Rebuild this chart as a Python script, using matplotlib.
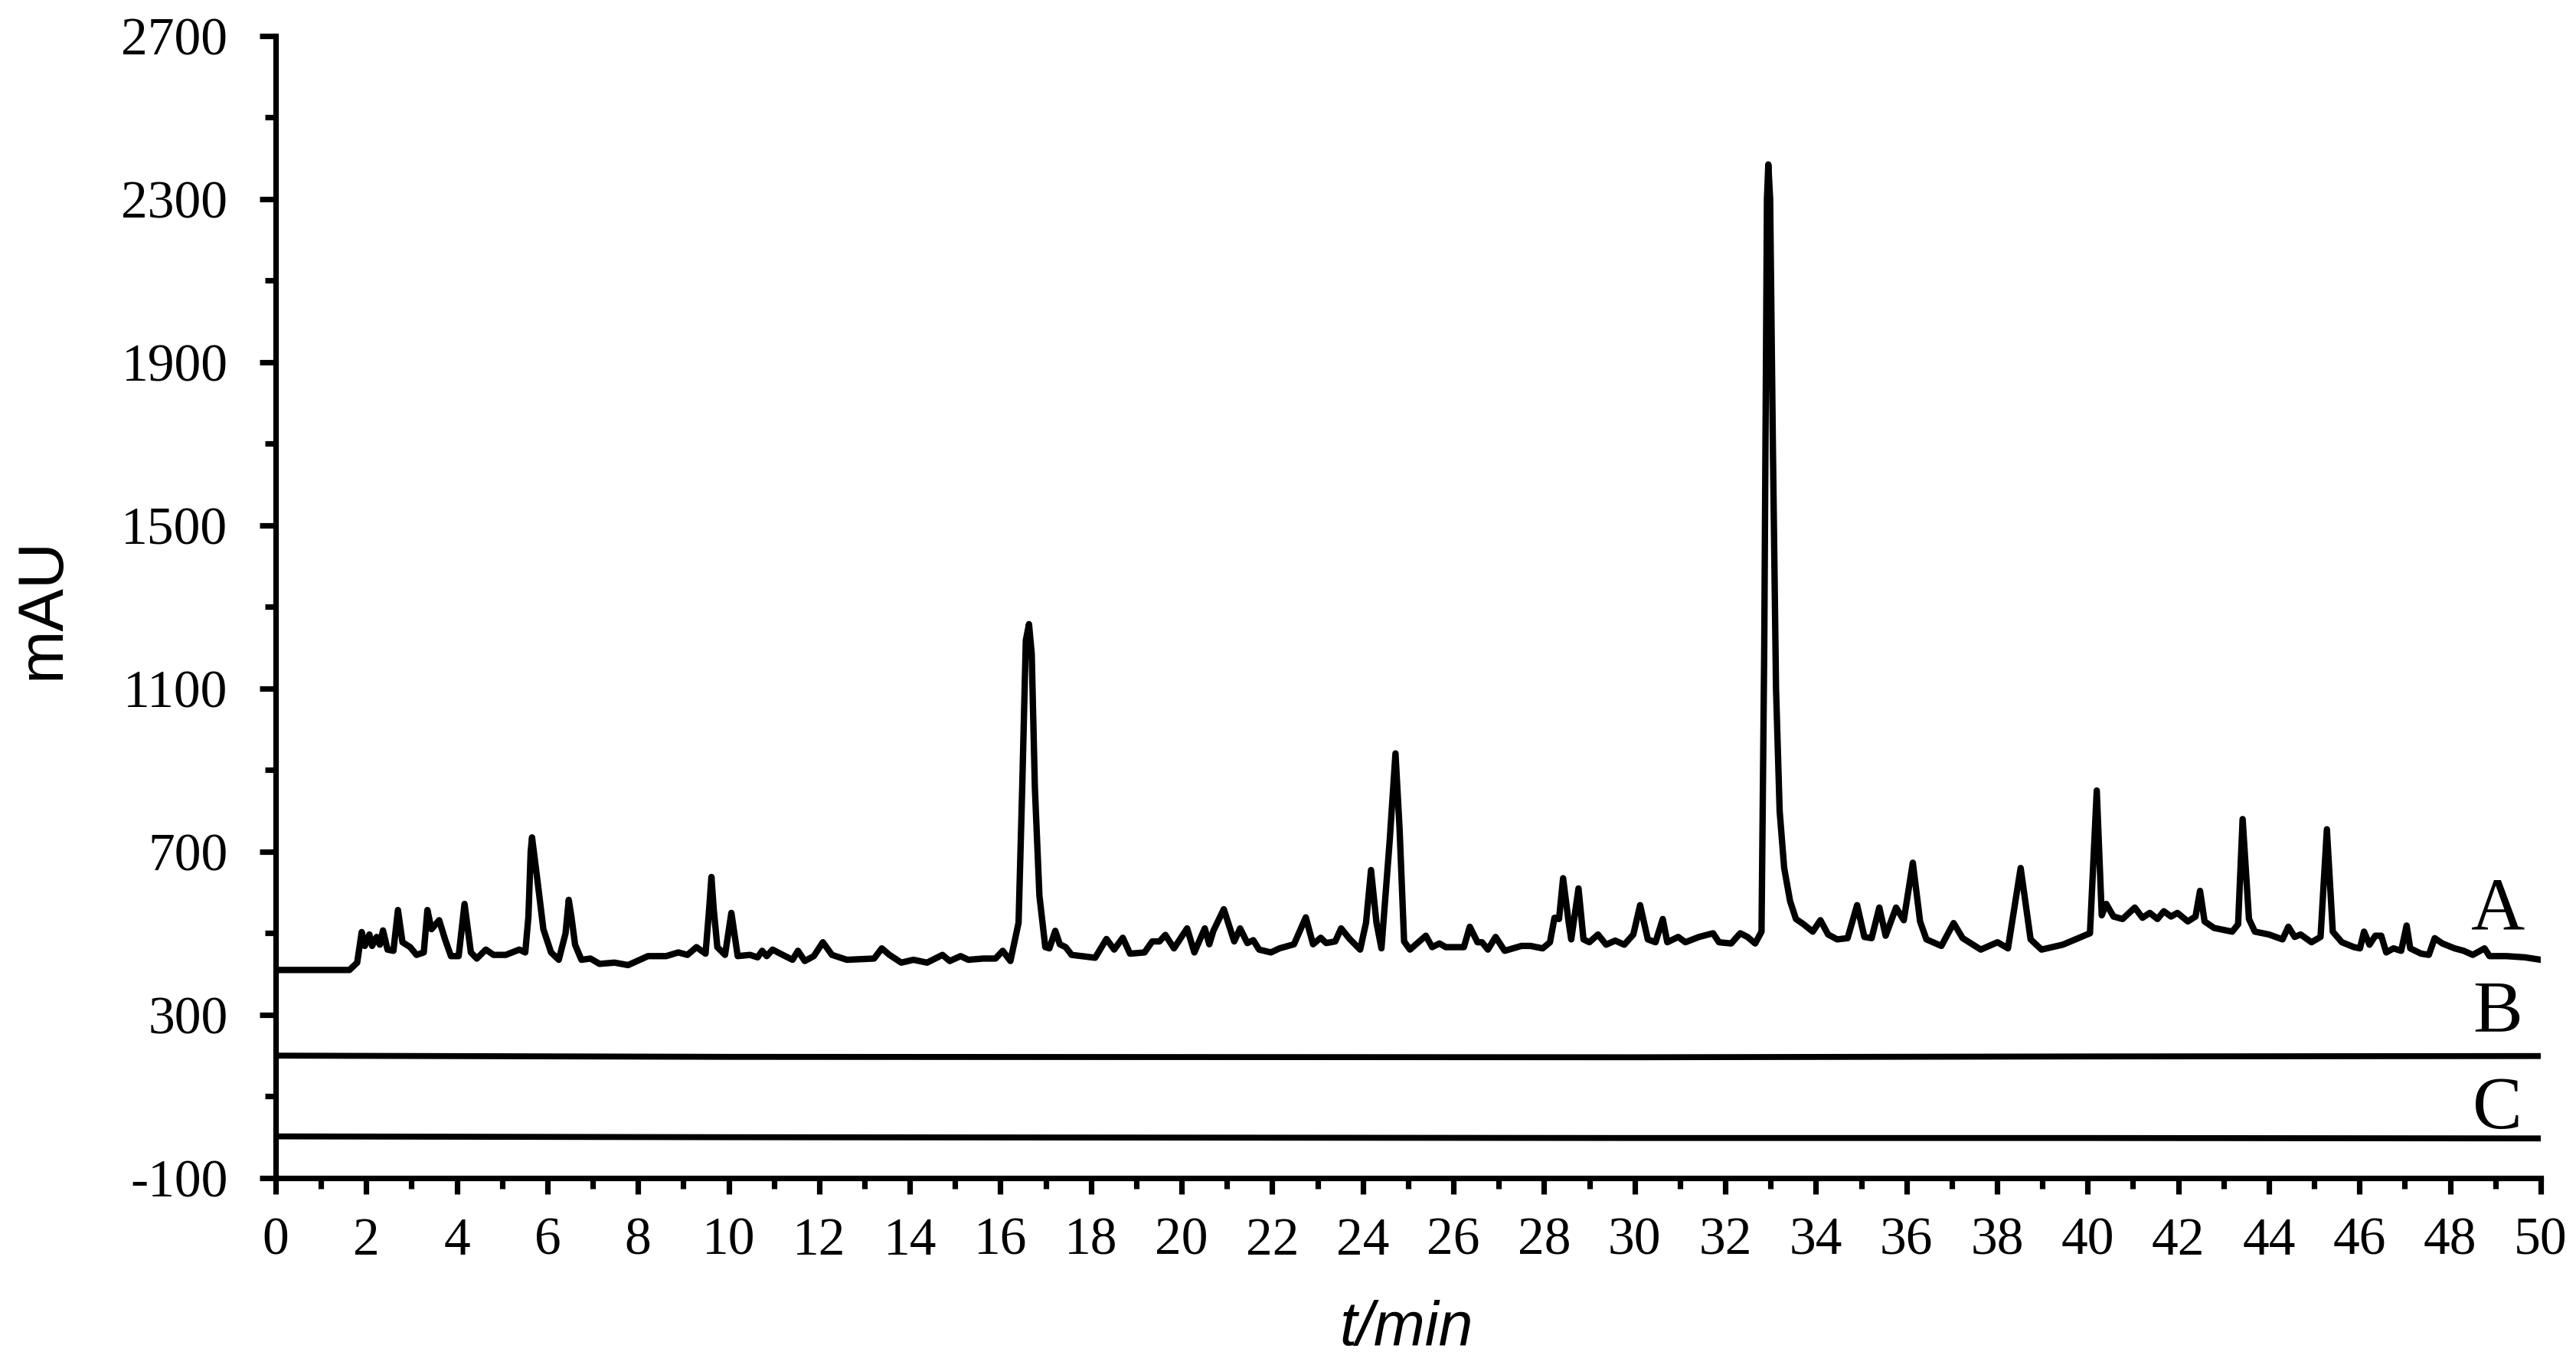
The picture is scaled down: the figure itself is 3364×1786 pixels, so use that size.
import matplotlib
matplotlib.use("Agg")
import matplotlib.pyplot as plt
from matplotlib.ticker import MultipleLocator
plt.rcParams["axes.unicode_minus"] = False

# trace A (retention time in min, signal in mAU)
time_a = [0.0, 1.63, 1.80, 1.90, 1.97, 2.07, 2.13, 2.23, 2.30, 2.37, 2.47, 2.60, 2.70, 2.80,
          2.97, 3.11, 3.27, 3.35, 3.44, 3.61, 3.74, 3.87, 4.04, 4.17, 4.31, 4.44, 4.64, 4.81,
          5.08, 5.38, 5.51, 5.58, 5.63, 5.66, 5.70, 5.78, 5.91, 6.08, 6.25, 6.40, 6.47, 6.53,
          6.61, 6.75, 6.95, 7.15, 7.48, 7.78, 8.22, 8.62, 8.89, 9.09, 9.29, 9.49, 9.57, 9.62,
          9.67, 9.75, 9.92, 10.06, 10.20, 10.47, 10.64, 10.74, 10.84, 10.97, 11.14, 11.41, 11.53,
          11.68, 11.88, 12.08, 12.28, 12.61, 13.21, 13.38, 13.55, 13.81, 14.08, 14.38, 14.72,
          14.88, 15.12, 15.29, 15.62, 15.89, 16.05, 16.22, 16.40, 16.48, 16.56, 16.63, 16.69,
          16.76, 16.86, 16.99, 17.08, 17.21, 17.31, 17.44, 17.57, 18.09, 18.34, 18.51, 18.70,
          18.86, 19.18, 19.35, 19.51, 19.64, 19.83, 20.12, 20.28, 20.51, 20.61, 20.70, 20.93,
          21.16, 21.29, 21.45, 21.58, 21.71, 21.97, 22.16, 22.48, 22.74, 22.90, 23.07, 23.19,
          23.39, 23.52, 23.71, 23.94, 24.07, 24.18, 24.30, 24.41, 24.59, 24.72, 24.81, 24.91,
          25.04, 25.39, 25.53, 25.69, 25.83, 26.23, 26.36, 26.53, 26.63, 26.76, 26.93, 27.13,
          27.50, 27.70, 27.97, 28.13, 28.23, 28.33, 28.42, 28.54, 28.60, 28.76, 28.87, 29.00,
          29.19, 29.37, 29.57, 29.77, 29.97, 30.12, 30.29, 30.46, 30.62, 30.72, 30.96, 31.12,
          31.42, 31.73, 31.86, 32.13, 32.33, 32.49, 32.66, 32.80, 32.86, 32.92, 32.95, 32.99,
          33.05, 33.12, 33.20, 33.30, 33.43, 33.56, 33.73, 33.93, 34.10, 34.27, 34.47, 34.70,
          34.91, 35.07, 35.23, 35.40, 35.54, 35.77, 35.94, 36.14, 36.30, 36.44, 36.77, 37.04,
          37.24, 37.64, 38.01, 38.24, 38.52, 38.74, 38.98, 39.45, 40.05, 40.20, 40.31, 40.41,
          40.57, 40.77, 41.04, 41.21, 41.37, 41.54, 41.68, 41.84, 41.98, 42.21, 42.38, 42.48,
          42.58, 42.79, 43.19, 43.32, 43.42, 43.56, 43.69, 44.00, 44.30, 44.43, 44.57, 44.70,
          44.94, 45.14, 45.28, 45.41, 45.61, 45.88, 46.01, 46.10, 46.22, 46.35, 46.48, 46.59,
          46.75, 46.92, 47.04, 47.12, 47.36, 47.53, 47.66, 47.83, 48.10, 48.30, 48.50, 48.76,
          48.87, 49.24, 49.65, 50.0]
signal_a = [410, 410, 428, 503, 469, 497, 469, 491, 472, 507, 460, 457, 557, 478,
            466, 447, 453, 557, 510, 532, 485, 444, 444, 572, 453, 438, 460, 447,
            447, 460, 453, 540, 700, 735, 700, 629, 510, 453, 435, 500, 582, 540,
            472, 435, 438, 425, 428, 422, 444, 444, 453, 447, 466, 450, 560, 638,
            560, 466, 447, 550, 444, 447, 441, 457, 444, 460, 450, 435, 457,
            432, 444, 478, 447, 435, 438, 463, 447, 428, 435, 428, 447,
            432, 444, 435, 438, 438, 457, 432, 526, 856, 1218, 1258, 1185,
            856, 592, 466, 463, 506, 473, 466, 447, 440, 486, 460, 489,
            450, 453, 480, 480, 496, 463, 512, 453, 512, 473, 506, 559,
            480, 512, 476, 483, 460, 453, 463, 473, 539, 473, 489, 476,
            480, 512, 486, 460, 526, 655, 526, 463, 724, 941, 757, 480,
            460, 494, 466, 475, 466, 466, 516, 478, 478, 460, 491, 457,
            469, 469, 463, 478, 538, 535, 635, 529, 485, 610, 485, 478,
            497, 472, 482, 472, 497, 569, 485, 478, 535, 478, 491, 478,
            491, 500, 478, 475, 500, 491, 475, 504, 1200, 2300, 2385, 2300,
            1700, 1100, 800, 660, 579, 535, 522, 504, 532, 497, 485, 488,
            569, 491, 488, 563, 494, 563, 532, 673, 529, 485, 469, 525,
            488, 460, 478, 463, 660, 485, 460, 472, 500, 850, 544, 572,
            541, 535, 563, 538, 550, 535, 554, 541, 550, 529, 541, 604,
            529, 513, 504, 522, 780, 535, 504, 497, 485, 516, 491, 497,
            478, 491, 755, 504, 478, 466, 463, 504, 472, 494, 494, 453,
            463, 457, 519, 463, 450, 447, 488, 475, 463, 457, 447, 463,
            444, 444, 441, 435]

# traces B and C are almost flat
time_b = [0, 10, 30, 40, 50]
signal_b = [200, 197, 196, 198, 199]
time_c = [0, 10, 30, 40, 50]
signal_c = [2, 0, -2, -2, -3]

trace_labels = ["A", "B", "C"]
label_base = [512, 258, 22]

fig = plt.figure(figsize=(16.82, 8.93), dpi=200)
ax = fig.add_axes([0.1070, 0.1389, 0.8793, 0.8348])

lw = 2.6
ax.plot(time_a, signal_a, color="black", lw=3.0, solid_joinstyle="round")
ax.plot(time_b, signal_b, color="black", lw=2.8)
ax.plot(time_c, signal_c, color="black", lw=2.8)

for lab, yb in zip(trace_labels, label_base):
    ax.text(49.05, yb, lab, ha="center", va="baseline", fontsize=35,
            family="Liberation Serif")

ax.set_xlim(0, 50)
ax.set_ylim(-100, 2700)
ax.xaxis.set_major_locator(MultipleLocator(2))
ax.xaxis.set_minor_locator(MultipleLocator(1))
ax.set_yticks(range(-100, 2701, 400))
ax.set_yticks(range(100, 2700, 400), minor=True)

for side in ["top", "right"]:
    ax.spines[side].set_visible(False)
for side in ["left", "bottom"]:
    ax.spines[side].set_linewidth(lw)

ax.tick_params(which="major", direction="out", length=7.5, width=lw)
ax.tick_params(which="minor", direction="out", length=5, width=lw)
ax.tick_params(axis="x", which="major", pad=11)
ax.tick_params(axis="y", which="major", pad=15)
for t in ax.get_xticklabels() + ax.get_yticklabels():
    t.set_family("Liberation Serif")
    t.set_fontsize(25)

fig.text(0.0164, 0.555, "mAU", rotation=90, ha="center", va="center",
         fontsize=30, family="Liberation Sans")
fig.text(0.546, 0.0286, "t/min", ha="center", va="center", fontsize=29,
         family="Liberation Sans", style="italic")

plt.savefig("out.png", dpi=200)
